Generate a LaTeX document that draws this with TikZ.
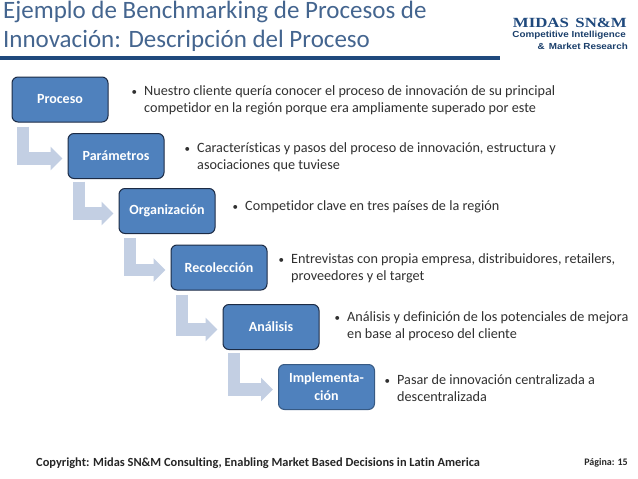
\documentclass[tikz,border=0pt]{standalone}
\usepackage{fontspec}
\setmainfont[Ligatures=NoCommon]{Carlito}
\newfontfamily\midasserif[FakeStretch=1.2]{Liberation Serif}
\newfontfamily\midassans[FakeStretch=1.12]{Liberation Sans}
\usetikzlibrary{arrows.meta}
\definecolor{titleblue}{HTML}{44658F}
\definecolor{ruleblue}{HTML}{1F497D}
\definecolor{boxblue}{HTML}{4F81BD}
\definecolor{boxline}{HTML}{1C2B45}
\definecolor{elbowblue}{HTML}{C3CFE3}
\definecolor{bodygray}{HTML}{303030}
\tikzset{
stagebox/.style={draw=boxline, line width=1pt, rounded corners=6pt, fill=boxblue, text=white,
  font=\fontsize{14}{18}\selectfont\bfseries, minimum width=96pt, minimum height=45pt, inner sep=0pt, align=center},
elbow/.style={draw=elbowblue, line width=12.5pt, -{Triangle[length=12pt,width=23pt]}},
bullettext/.style={font=\fontsize{14.2}{17.7}\selectfont, text=bodygray, align=left, anchor=north west, inner sep=0pt},
titletext/.style={font=\fontsize{25}{24}\selectfont, text=titleblue, anchor=west, inner sep=0pt}
}
\newcommand{\bulletmark}{\makebox[13pt][l]{\hspace{0.5pt}{\fontsize{11}{11}\selectfont\textbullet}}}
\newcommand{\hangmark}{\hspace*{13pt}}
\begin{document}
\begin{tikzpicture}[x=1pt,y=-1pt]

\useasboundingbox (0,0) rectangle (638,479);

%%%%%%%%%%%%%%%%%%%%%%%%%%%%%%%%%%%%%%%%%%%%%%%%%%%%%%
% HEADER
%%%%%%%%%%%%%%%%%%%%%%%%%%%%%%%%%%%%%%%%%%%%%%%%%%%%%%

\node[titletext] (titleone) at (3,12) {Ejemplo de Benchmarking de Procesos de};
\node[titletext] (titletwo) at (3,41) {Innovación: Descripción del Proceso};

\coordinate (ruleleft) at (0,58);
\coordinate (ruleright) at (500,58);
\draw[ruleblue, line width=3.4pt] (ruleleft) -- (ruleright);

\node[font=\midasserif\fontsize{14}{14}\selectfont\bfseries, text=ruleblue, anchor=east, inner sep=0pt]
(midas) at (627,23) {MIDAS\, SN\&M};
\node[font=\midassans\fontsize{8.8}{10}\selectfont\bfseries, text=ruleblue!85!black, anchor=east, inner sep=0pt]
(competitive) at (626,35) {Competitive Intelligence};
\node[font=\midassans\fontsize{8.8}{10}\selectfont\bfseries, text=ruleblue!85!black, anchor=east, inner sep=0pt]
(market) at (628,46.5) {\&\, Market Research};

%%%%%%%%%%%%%%%%%%%%%%%%%%%%%%%%%%%%%%%%%%%%%%%%%%%%%%
% STAGES
%%%%%%%%%%%%%%%%%%%%%%%%%%%%%%%%%%%%%%%%%%%%%%%%%%%%%%

\node[stagebox] (proceso) at (60,99.5) {Proceso};
\node[stagebox] (parametros) at (116,156) {Parámetros};
\node[stagebox] (organizacion) at (167,211) {Organización};
\node[stagebox] (recoleccion) at (219,267.5) {Recolección};
\node[stagebox] (analisis) at (271,327) {Análisis};
\node[stagebox, draw=boxblue!70!black] (implementacion) at (326.5,387) {Implementa-\\ción};

%%%%%%%%%%%%%%%%%%%%%%%%%%%%%%%%%%%%%%%%%%%%%%%%%%%%%%
% ELBOWS
%%%%%%%%%%%%%%%%%%%%%%%%%%%%%%%%%%%%%%%%%%%%%%%%%%%%%%

\draw[elbow] ([xshift=11.5pt,yshift=-4pt]proceso.south west) |- ([xshift=-5pt,yshift=-2.5pt]parametros.west);
\draw[elbow] ([xshift=11.5pt,yshift=-2.5pt]parametros.south west) |- ([xshift=-5pt,yshift=-2.5pt]organizacion.west);
\draw[elbow] ([xshift=11.5pt,yshift=-4pt]organizacion.south west) |- ([xshift=-5pt,yshift=-2.5pt]recoleccion.west);
\draw[elbow] ([xshift=11.5pt,yshift=-4pt]recoleccion.south west) |- ([xshift=-5pt,yshift=-2.5pt]analisis.west);
\draw[elbow] ([xshift=11.5pt,yshift=-3pt]analisis.south west) |- ([xshift=-5pt,yshift=-2.5pt]implementacion.west);

%%%%%%%%%%%%%%%%%%%%%%%%%%%%%%%%%%%%%%%%%%%%%%%%%%%%%%
% BULLETS
%%%%%%%%%%%%%%%%%%%%%%%%%%%%%%%%%%%%%%%%%%%%%%%%%%%%%%

\node[bullettext] (procesotext) at (131,85) {\bulletmark Nuestro cliente quería conocer el proceso de innovación de su principal\\\hangmark competidor en la región porque era ampliamente superado por este};
\node[bullettext] (parametrostext) at (184,142) {\bulletmark Características y pasos del proceso de innovación, estructura y\\\hangmark asociaciones que tuviese};
\node[bullettext] (organizaciontext) at (232,200) {\bulletmark Competidor clave en tres países de la región};
\node[bullettext] (recolecciontext) at (278,253) {\bulletmark Entrevistas con propia empresa, distribuidores, retailers,\\\hangmark proveedores y el target};
\node[bullettext] (analisistext) at (334,311) {\bulletmark Análisis y definición de los potenciales de mejora\\\hangmark en base al proceso del cliente};
\node[bullettext] (implementaciontext) at (384,374) {\bulletmark Pasar de innovación centralizada a\\\hangmark descentralizada};

%%%%%%%%%%%%%%%%%%%%%%%%%%%%%%%%%%%%%%%%%%%%%%%%%%%%%%
% FOOTER
%%%%%%%%%%%%%%%%%%%%%%%%%%%%%%%%%%%%%%%%%%%%%%%%%%%%%%

\node[font=\fontsize{12.4}{14}\selectfont\bfseries, text=black!85, anchor=west, inner sep=0pt]
(copyright) at (36,463) {Copyright: Midas SN\&M Consulting, Enabling Market Based Decisions in Latin America};
\node[font=\fontsize{10}{12}\selectfont\bfseries, text=black!85, anchor=east, inner sep=0pt]
(pagina) at (628,463) {Página: 15};

\end{tikzpicture}
\end{document}
